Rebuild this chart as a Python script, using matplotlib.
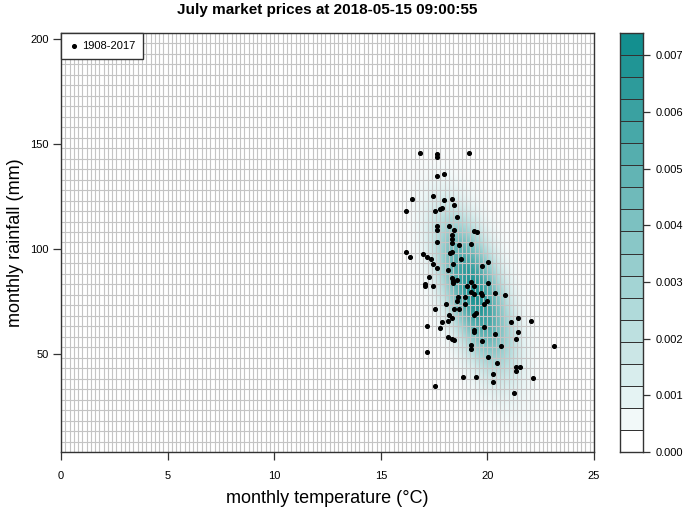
import numpy as np
import matplotlib.pyplot as plt
from matplotlib.colors import LinearSegmentedColormap

plt.rcParams['font.family'] = ['Liberation Sans', 'DejaVu Sans']

# July temperature (°C) and rainfall (mm), 1908-2017
temp = [16.85, 17.63, 17.63, 19.15, 17.63, 17.95, 16.47, 17.43, 17.95, 18.35,
        18.43, 16.17, 17.55, 17.77, 17.87, 18.57, 17.63, 17.63, 18.21, 18.43,
        18.35, 19.37, 19.53, 18.34, 17.63, 18.35, 18.65, 19.23, 16.17, 16.36,
        16.97, 17.15, 17.35, 18.23, 18.35, 18.75, 17.43, 17.63, 18.37, 19.74,
        20.03, 18.15, 17.27, 18.35, 18.37, 18.37, 18.57, 19.23, 19.36, 20.03,
        17.07, 17.07, 17.43, 19.04, 19.22, 19.37, 19.69, 19.75, 20.35, 20.83,
        18.63, 18.95, 18.57, 18.95, 19.99, 19.83, 18.07, 18.65, 18.45, 17.55,
        19.45, 19.37, 18.21, 18.34, 17.85, 18.15, 17.15, 17.77, 19.83, 19.36,
        19.36, 20.35, 21.12, 21.43, 22.06, 21.43, 21.34, 18.14, 18.35, 18.43,
        19.74, 19.23, 19.23, 20.63, 23.14, 17.15, 20.03, 20.44, 21.34, 21.55,
        21.34, 20.24, 18.87, 19.47, 22.15, 20.24, 17.55, 21.26]
rain = [145.6, 145.1, 143.7, 145.9, 134.9, 135.9, 124.0, 125.2, 123.2, 123.7,
        121.0, 118.1, 118.1, 119.2, 119.7, 115.4, 111.1, 109.0, 111.1, 108.9,
        106.8, 108.7, 108.1, 104.9, 103.0, 102.7, 101.8, 102.2, 98.4, 96.3,
        97.6, 95.9, 95.1, 98.0, 98.7, 95.1, 92.5, 91.0, 92.9, 92.0,
        93.5, 90.0, 86.3, 86.2, 84.4, 83.7, 84.9, 84.3, 82.4, 83.5,
        83.2, 82.4, 82.4, 82.4, 79.2, 78.2, 78.7, 78.1, 78.9, 78.1,
        76.8, 76.8, 74.9, 73.8, 74.9, 73.7, 73.8, 71.3, 71.3, 71.3,
        69.4, 68.4, 68.6, 66.8, 65.2, 65.7, 63.3, 62.2, 62.9, 61.4,
        60.3, 59.5, 65.2, 67.0, 65.7, 60.3, 56.8, 58.1, 56.7, 56.3,
        56.0, 54.3, 52.2, 53.5, 53.8, 50.6, 48.2, 45.4, 43.7, 43.7,
        41.6, 40.3, 38.7, 39.0, 38.2, 36.3, 34.3, 31.3]
period = '1908-2017'

# forecast distribution (bivariate normal)
fc_mean = [19.4, 79.0]
fc_sd = [1.15, 24.0]
fc_rho = -0.6

x_ticks = [0, 5, 10, 15, 20, 25]
y_ticks = [50, 100, 150, 200]
cbar_ticks = [0.000, 0.001, 0.002, 0.003, 0.004, 0.005, 0.006, 0.007]
dens_max = 0.00739
n_levels = 19

# density on a fine grid
gx = np.linspace(0, 25, 500)
gy = np.linspace(3, 203, 400)
X, Y = np.meshgrid(gx, gy)
zx = (X - fc_mean[0]) / fc_sd[0]
zy = (Y - fc_mean[1]) / fc_sd[1]
q = (zx ** 2 - 2 * fc_rho * zx * zy + zy ** 2) / (1 - fc_rho ** 2)
dens = np.exp(-0.5 * q) / (2 * np.pi * fc_sd[0] * fc_sd[1] * np.sqrt(1 - fc_rho ** 2))

cmap = LinearSegmentedColormap.from_list('tealramp', ['#ffffff', '#138f8f'])

fig = plt.figure(figsize=(6.87, 5.07), dpi=100)
ax = fig.add_axes([0.0888, 0.1085, 0.7758, 0.8264])

ax.imshow(dens, extent=(0, 25, 3, 203), origin='lower', aspect='auto',
          cmap=cmap, vmin=0, vmax=dens_max, interpolation='bilinear', zorder=0)

# cell grid
x_edges = np.arange(0, 25.01, 0.2)
y_edges = np.arange(3, 203.01, 5)
ax.vlines(x_edges, 3, 203, colors='#c4c4c4', linewidth=0.8, zorder=1)
ax.hlines(y_edges, 0, 25, colors='#c4c4c4', linewidth=0.8, zorder=1)

ax.scatter(temp, rain, s=7, color='black', zorder=3, label=period)

ax.set_xlim(0, 25)
ax.set_ylim(3, 203)
ax.set_xticks(x_ticks)
ax.set_yticks(y_ticks)
ax.tick_params(direction='out', length=6, width=0.9, labelsize=8, color='#333333')
ax.tick_params(axis='x', pad=8)
ax.tick_params(axis='y', pad=3)
for s in ax.spines.values():
    s.set_color('#333333')
    s.set_linewidth(1)

ax.set_xlabel('monthly temperature (°C)', fontsize=13, labelpad=6)
ax.set_ylabel('monthly rainfall (mm)', fontsize=13, labelpad=4)
ax.set_title('July market prices at 2018-05-15 09:00:55', fontsize=11,
             fontweight='bold', pad=14)

leg = ax.legend(loc='upper left', borderaxespad=0, fontsize=8, markerscale=1,
                fancybox=False, framealpha=1, handletextpad=0.2,
                borderpad=0.7, handlelength=1.0)
leg.get_frame().set_edgecolor('#333333')
leg.get_frame().set_linewidth(1)
leg.set_zorder(5)

# colour key, one box per level
cax = fig.add_axes([0.9025, 0.1085, 0.0335, 0.8264])
bounds = np.linspace(0, dens_max, n_levels + 1)
level_vals = bounds[:-1] / bounds[-2]
cax.pcolormesh([0, 1], bounds, level_vals.reshape(-1, 1), cmap=cmap,
               vmin=0, vmax=1, edgecolors='#333333', linewidth=0.6)
cax.set_xlim(0, 1)
cax.set_ylim(0, dens_max)
cax.set_xticks([])
cax.yaxis.tick_right()
cax.set_yticks(cbar_ticks)
cax.set_yticklabels(['%.3f' % t for t in cbar_ticks])
cax.tick_params(length=5, width=0.9, labelsize=8, pad=4, color='#333333')
for s in cax.spines.values():
    s.set_color('#333333')
    s.set_linewidth(1)

fig.savefig('out.png', dpi=100)
